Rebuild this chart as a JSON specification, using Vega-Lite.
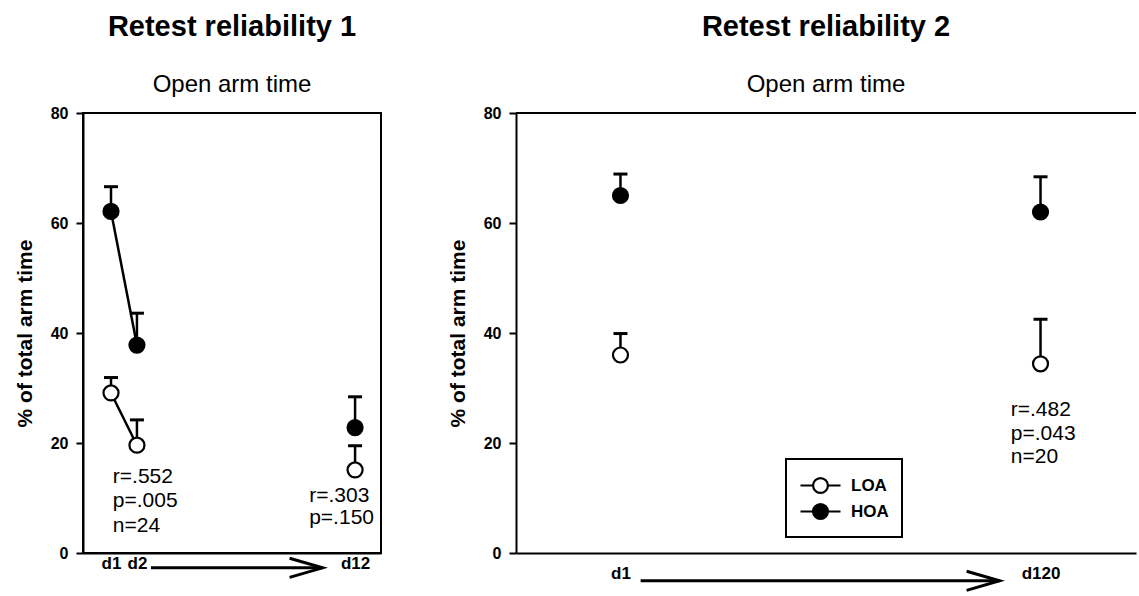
{
  "$schema": "https://vega.github.io/schema/vega-lite/v6.json",
  "padding": {"left": 13, "top": 12, "right": 0, "bottom": 0},
  "background": "white",
  "spacing": 65,
  "datasets": {
    "left": [
      {"day": "d1", "x": 9.4, "group": "LOA", "y": 29.1, "hi": 31.9, "seg": "a"},
      {"day": "d2", "x": 18.1, "group": "LOA", "y": 19.6, "hi": 24.2, "seg": "a"},
      {"day": "d12", "x": 91.3, "group": "LOA", "y": 15.1, "hi": 19.5, "seg": "b"},
      {"day": "d1", "x": 9.4, "group": "HOA", "y": 62.1, "hi": 66.6, "seg": "a"},
      {"day": "d2", "x": 18.1, "group": "HOA", "y": 37.8, "hi": 43.6, "seg": "a"},
      {"day": "d12", "x": 91.3, "group": "HOA", "y": 22.8, "hi": 28.4, "seg": "b"}
    ],
    "right": [
      {"day": "d1", "x": 16.85, "group": "LOA", "y": 36.0, "hi": 39.9},
      {"day": "d120", "x": 84.6, "group": "LOA", "y": 34.4, "hi": 42.5},
      {"day": "d1", "x": 16.85, "group": "HOA", "y": 65.0, "hi": 68.9},
      {"day": "d120", "x": 84.6, "group": "HOA", "y": 62.0, "hi": 68.4}
    ],
    "leftNotes": [
      {"x": 10.0, "y": 12.8, "t": "r=.552"},
      {"x": 10.0, "y": 8.3, "t": "p=.005"},
      {"x": 10.0, "y": 3.9, "t": "n=24"},
      {"x": 75.9, "y": 9.2, "t": "r=.303"},
      {"x": 75.9, "y": 5.2, "t": "p=.150"}
    ],
    "rightNotes": [
      {"x": 79.8, "y": 24.9, "t": "r=.482"},
      {"x": 79.8, "y": 20.5, "t": "p=.043"},
      {"x": 79.8, "y": 16.3, "t": "n=20"}
    ],
    "leftArrow": [{"x": 22.8, "x2": 80.4, "y": -2.7}],
    "rightArrow": [{"x": 20.1, "x2": 78.0, "y": -5.05}]
  },
  "config": {
    "font": "Liberation Sans",
    "view": {"stroke": "black", "strokeWidth": 2},
    "axis": {
      "grid": false, "domainColor": "black", "domainWidth": 2,
      "tickColor": "black", "tickWidth": 2, "labelColor": "black", "titleColor": "black",
      "labelFont": "Liberation Sans", "labelFontWeight": "bold",
      "titleFont": "Liberation Sans", "titleFontWeight": "bold"
    },
    "title": {
      "font": "Liberation Sans", "fontSize": 29, "fontWeight": "bold", "color": "black",
      "subtitleFont": "Liberation Sans", "subtitleFontSize": 24, "subtitleColor": "black",
      "subtitlePadding": 31, "offset": 8, "frame": "group", "anchor": "middle"
    }
  },
  "resolve": {"scale": {"x": "independent", "y": "independent", "fill": "independent"}, "legend": {"fill": "independent"}},
  "hconcat": [
    {
      "width": 298, "height": 440,
      "title": {"text": "Retest reliability 1", "subtitle": "Open arm time"},
      "layer": [
        {
          "data": {"name": "left"},
          "transform": [{"filter": "datum.seg == 'a'"}],
          "mark": {"type": "line", "color": "black", "strokeWidth": 2.5},
          "encoding": {
            "x": {"field": "x", "type": "quantitative", "scale": {"domain": [0, 100], "nice": false, "zero": false},
                  "axis": {"values": [9.4, 18.1, 91.3], "labelExpr": "datum.value < 12 ? 'd1' : datum.value < 50 ? 'd2' : 'd12'",
                           "ticks": false, "labelPadding": 2, "labelFontSize": 17, "title": null, "labelFlush": false, "labelOverlap": false}},
            "y": {"field": "y", "type": "quantitative", "scale": {"domain": [0, 80], "nice": false, "zero": false},
                  "axis": {"values": [0, 20, 40, 60, 80], "tickSize": 7, "labelPadding": 8, "labelFontSize": 16,
                           "title": "% of total arm time", "titleFontSize": 21, "titlePadding": 15}},
            "detail": {"field": "group"}
          }
        },
        {
          "data": {"name": "left"},
          "mark": {"type": "rule", "color": "black", "strokeWidth": 2.5},
          "encoding": {
            "x": {"field": "x", "type": "quantitative"},
            "y": {"field": "y", "type": "quantitative"},
            "y2": {"field": "hi"}
          }
        },
        {
          "data": {"name": "left"},
          "mark": {"type": "point", "shape": "stroke", "size": 196, "filled": false, "stroke": "black", "strokeWidth": 3, "opacity": 1},
          "encoding": {
            "x": {"field": "x", "type": "quantitative"},
            "y": {"field": "hi", "type": "quantitative"}
          }
        },
        {
          "data": {"name": "left"},
          "mark": {"type": "point", "shape": "circle", "size": 225, "filled": true, "stroke": "black", "strokeWidth": 2.2, "opacity": 1},
          "encoding": {
            "x": {"field": "x", "type": "quantitative"},
            "y": {"field": "y", "type": "quantitative"},
            "fill": {"field": "group", "type": "nominal", "scale": {"domain": ["LOA", "HOA"], "range": ["white", "black"]}, "legend": null}
          }
        },
        {
          "data": {"name": "leftNotes"},
          "mark": {"type": "text", "align": "left", "baseline": "alphabetic", "fontSize": 21, "font": "Liberation Sans", "color": "black"},
          "encoding": {
            "x": {"field": "x", "type": "quantitative"},
            "y": {"field": "y", "type": "quantitative"},
            "text": {"field": "t"}
          }
        },
        {
          "data": {"name": "leftArrow"},
          "mark": {"type": "rule", "color": "black", "strokeWidth": 3},
          "encoding": {
            "x": {"field": "x", "type": "quantitative"},
            "x2": {"field": "x2"},
            "y": {"field": "y", "type": "quantitative"}
          }
        },
        {
          "data": {"name": "leftArrow"},
          "mark": {"type": "point", "shape": "M-1,-0.29L0,0L-1,0.29", "size": 4356, "filled": false, "stroke": "black", "strokeWidth": 3, "strokeJoin": "miter", "opacity": 1},
          "encoding": {
            "x": {"field": "x2", "type": "quantitative"},
            "y": {"field": "y", "type": "quantitative"}
          }
        }
      ]
    },
    {
      "width": 620, "height": 440,
      "view": {"stroke": null},
      "title": {"text": "Retest reliability 2", "subtitle": "Open arm time"},
      "layer": [
        {
          "data": {"name": "right"},
          "mark": {"type": "rule", "color": "black", "strokeWidth": 2.5},
          "encoding": {
            "x": {"field": "x", "type": "quantitative", "scale": {"domain": [0, 100], "nice": false, "zero": false},
                  "axis": {"values": [16.85, 84.6], "labelExpr": "datum.value < 50 ? 'd1' : 'd120'",
                           "ticks": false, "labelPadding": 12, "labelFontSize": 17, "title": null, "labelFlush": false, "labelOverlap": false}},
            "y": {"field": "y", "type": "quantitative", "scale": {"domain": [0, 80], "nice": false, "zero": false},
                  "axis": {"values": [0, 20, 40, 60, 80], "tickSize": 7, "labelPadding": 8, "labelFontSize": 16,
                           "title": "% of total arm time", "titleFontSize": 21, "titlePadding": 15}},
            "y2": {"field": "hi"}
          }
        },
        {
          "data": {"values": [{}]},
          "mark": {"type": "rule", "color": "black", "strokeWidth": 2},
          "encoding": {
            "x": {"datum": 0, "type": "quantitative"},
            "x2": {"datum": 100},
            "y": {"datum": 80, "type": "quantitative"}
          }
        },
        {
          "data": {"name": "right"},
          "mark": {"type": "point", "shape": "stroke", "size": 196, "filled": false, "stroke": "black", "strokeWidth": 3, "opacity": 1},
          "encoding": {
            "x": {"field": "x", "type": "quantitative"},
            "y": {"field": "hi", "type": "quantitative"}
          }
        },
        {
          "data": {"name": "right"},
          "mark": {"type": "point", "shape": "circle", "size": 225, "filled": true, "stroke": "black", "strokeWidth": 2.2, "opacity": 1},
          "encoding": {
            "x": {"field": "x", "type": "quantitative"},
            "y": {"field": "y", "type": "quantitative"},
            "fill": {"field": "group", "type": "nominal", "scale": {"domain": ["LOA", "HOA"], "range": ["white", "black"]},
                     "legend": {"orient": "none", "legendX": 270, "legendY": 346, "title": null,
                                "symbolType": "M-1.667,0L-0.62,0M0.62,0L1.667,0M-0.62,0A0.62,0.62,0,1,1,0.62,0A0.62,0.62,0,1,1,-0.62,0Z",
                                "symbolSize": 576, "symbolStrokeColor": "black", "symbolStrokeWidth": 2.2, "symbolOpacity": 1,
                                "labelFont": "Liberation Sans", "labelFontSize": 17, "labelFontWeight": "bold", "labelColor": "black",
                                "strokeColor": "black", "padding": 13, "rowPadding": 0, "symbolOffset": 8, "labelOffset": 17,
                                "encode": {"legend": {"update": {"strokeWidth": {"value": 2}}}}}}
          }
        },
        {
          "data": {"name": "rightNotes"},
          "mark": {"type": "text", "align": "left", "baseline": "alphabetic", "fontSize": 21, "font": "Liberation Sans", "color": "black"},
          "encoding": {
            "x": {"field": "x", "type": "quantitative"},
            "y": {"field": "y", "type": "quantitative"},
            "text": {"field": "t"}
          }
        },
        {
          "data": {"name": "rightArrow"},
          "mark": {"type": "rule", "color": "black", "strokeWidth": 3},
          "encoding": {
            "x": {"field": "x", "type": "quantitative"},
            "x2": {"field": "x2"},
            "y": {"field": "y", "type": "quantitative"}
          }
        },
        {
          "data": {"name": "rightArrow"},
          "mark": {"type": "point", "shape": "M-1,-0.29L0,0L-1,0.29", "size": 4356, "filled": false, "stroke": "black", "strokeWidth": 3, "strokeJoin": "miter", "opacity": 1},
          "encoding": {
            "x": {"field": "x2", "type": "quantitative"},
            "y": {"field": "y", "type": "quantitative"}
          }
        }
      ]
    }
  ]
}
